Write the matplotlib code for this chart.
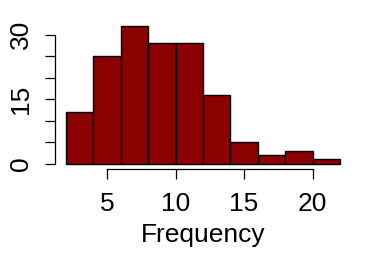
import numpy as np
import matplotlib
matplotlib.use("Agg")
import matplotlib.pyplot as plt

# histogram bins and counts
bin_edges = [2, 4, 6, 8, 10, 12, 14, 16, 18, 20, 22]
counts = [12, 25, 32, 28, 28, 16, 5, 2, 3, 1]
x_ticks = [5, 10, 15, 20]
y_ticks = [0, 5, 10, 15, 20, 25, 30]
y_labels = ["0", "", "", "15", "", "", "30"]

plt.rcParams['font.family'] = ['Liberation Sans', 'DejaVu Sans']

fig = plt.figure(figsize=(3.72, 2.75), dpi=100)
ax = fig.add_axes([55 / 372, 1 - 169 / 275, 296 / 372, 148.3 / 275])

lefts = np.array(bin_edges[:-1])
widths = np.diff(bin_edges)
ax.bar(lefts, counts, width=widths, align='edge', color='#8B0000',
       edgecolor='black', linewidth=1.0)

ax.set_xlim(1.2, 22.8)
ax.set_ylim(-1.28, 33.28)

for side in ['top', 'right']:
    ax.spines[side].set_visible(False)
ax.spines['left'].set_bounds(0, 30)
ax.spines['bottom'].set_bounds(5, 20)
ax.spines['left'].set_linewidth(0.9)
ax.spines['bottom'].set_linewidth(0.9)

ax.set_xticks(x_ticks)
ax.set_xticklabels([str(t) for t in x_ticks])
ax.set_yticks(y_ticks)
ax.set_yticklabels(y_labels, rotation=90, va='center')

ax.tick_params(axis='x', length=7.5, width=0.9, labelsize=19, pad=9)
ax.tick_params(axis='y', length=7.5, width=0.9, labelsize=19, pad=8)

ax.set_xlabel('Frequency', fontsize=19, labelpad=5)

fig.savefig('out.png', dpi=100)
